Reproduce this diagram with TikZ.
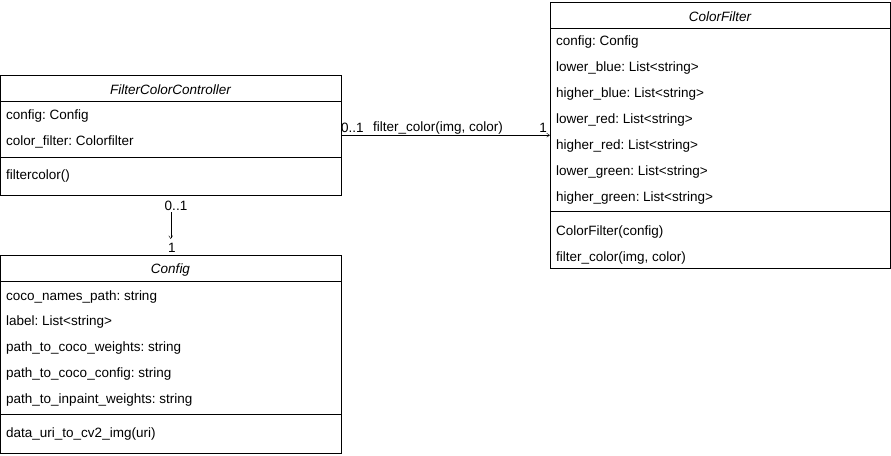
\documentclass[tikz,border=0pt]{standalone}
\usepackage{fontspec}
\setmainfont{Liberation Sans}
\usetikzlibrary{arrows.meta}
\frenchspacing
\tikzstyle{classbox} = [rectangle, draw, fill=white, anchor=north west,
                 inner sep=0pt]
\tikzstyle{member} = [anchor=west, inner sep=0pt, font=\fontsize{13.5}{15}\selectfont]
\tikzstyle{title} = [inner sep=0pt, font=\fontsize{13.5}{15}\selectfont\itshape]
\tikzstyle{assoc} = [draw, -{Straight Barb[length=3pt,width=4pt]}]

\begin{document}
\begin{tikzpicture}[x=1pt,y=-1pt]
\useasboundingbox (0,0) rectangle (891,455);

% boxes
\node [classbox, minimum width=341pt, minimum height=120pt] at (0,75) (fcc) {};
\node [classbox, minimum width=340pt, minimum height=266pt] at (550,2) (cf) {};
\node [classbox, minimum width=341pt, minimum height=198pt] at (0,255) (cfg) {};

% dividers
\draw (0,101) -- (341,101);
\draw (0,157) -- (341,157);
\draw (550,28) -- (890,28);
\draw (550,211) -- (890,211);
\draw (0,281) -- (341,281);
\draw (0,414) -- (341,414);

% titles
\node [title] (fcctitle) at (170.5,90) {FilterColorController};
\node [title] (cftitle) at (720,17) {ColorFilter};
\node [title] (cfgtitle) at (170.5,270) {Config};

% members
\foreach \y/\txt [count=\i] in {116/config: Config, 142/color\_filter: Colorfilter, 176/filtercolor()}
	\node [member] (fccm\i) at (6,\y) {\txt};
\foreach \y/\txt [count=\i] in {42/config: Config, 68/lower\_blue: List<string>,
	94/higher\_blue: List<string>, 120/lower\_red: List<string>,
	146/higher\_red: List<string>, 172/lower\_green: List<string>,
	198/higher\_green: List<string>, 232/ColorFilter(config),
	258/{filter\_color(img, color)}}
	\node [member] (cfm\i) at (556,\y) {\txt};
\foreach \y/\txt [count=\i] in {297/coco\_names\_path: string, 322/label: List<string>,
	348/path\_to\_coco\_weights: string, 374/path\_to\_coco\_config: string,
	400/path\_to\_inpaint\_weights: string, 434/data\_uri\_to\_cv2\_img(uri)}
	\node [member] (cfgm\i) at (6,\y) {\txt};

% associations
\path [assoc] (fcc.east) -- (cf.west);
\node [member] (fccmult) at (341,128) {0..1};
\node [member] (assoclabel) at (373,128) {filter\_color(img, color)};
\node [member, anchor=east] (cfmult) at (547,128) {1};

\path [assoc, shorten <=17pt, shorten >=16pt] (fcc.south) -- (cfg.north);
\node [member, anchor=center] (fccmult2) at (176,206) {0..1};
\node [member, anchor=center] (cfgmult) at (172,248) {1};

\end{tikzpicture}
\end{document}
